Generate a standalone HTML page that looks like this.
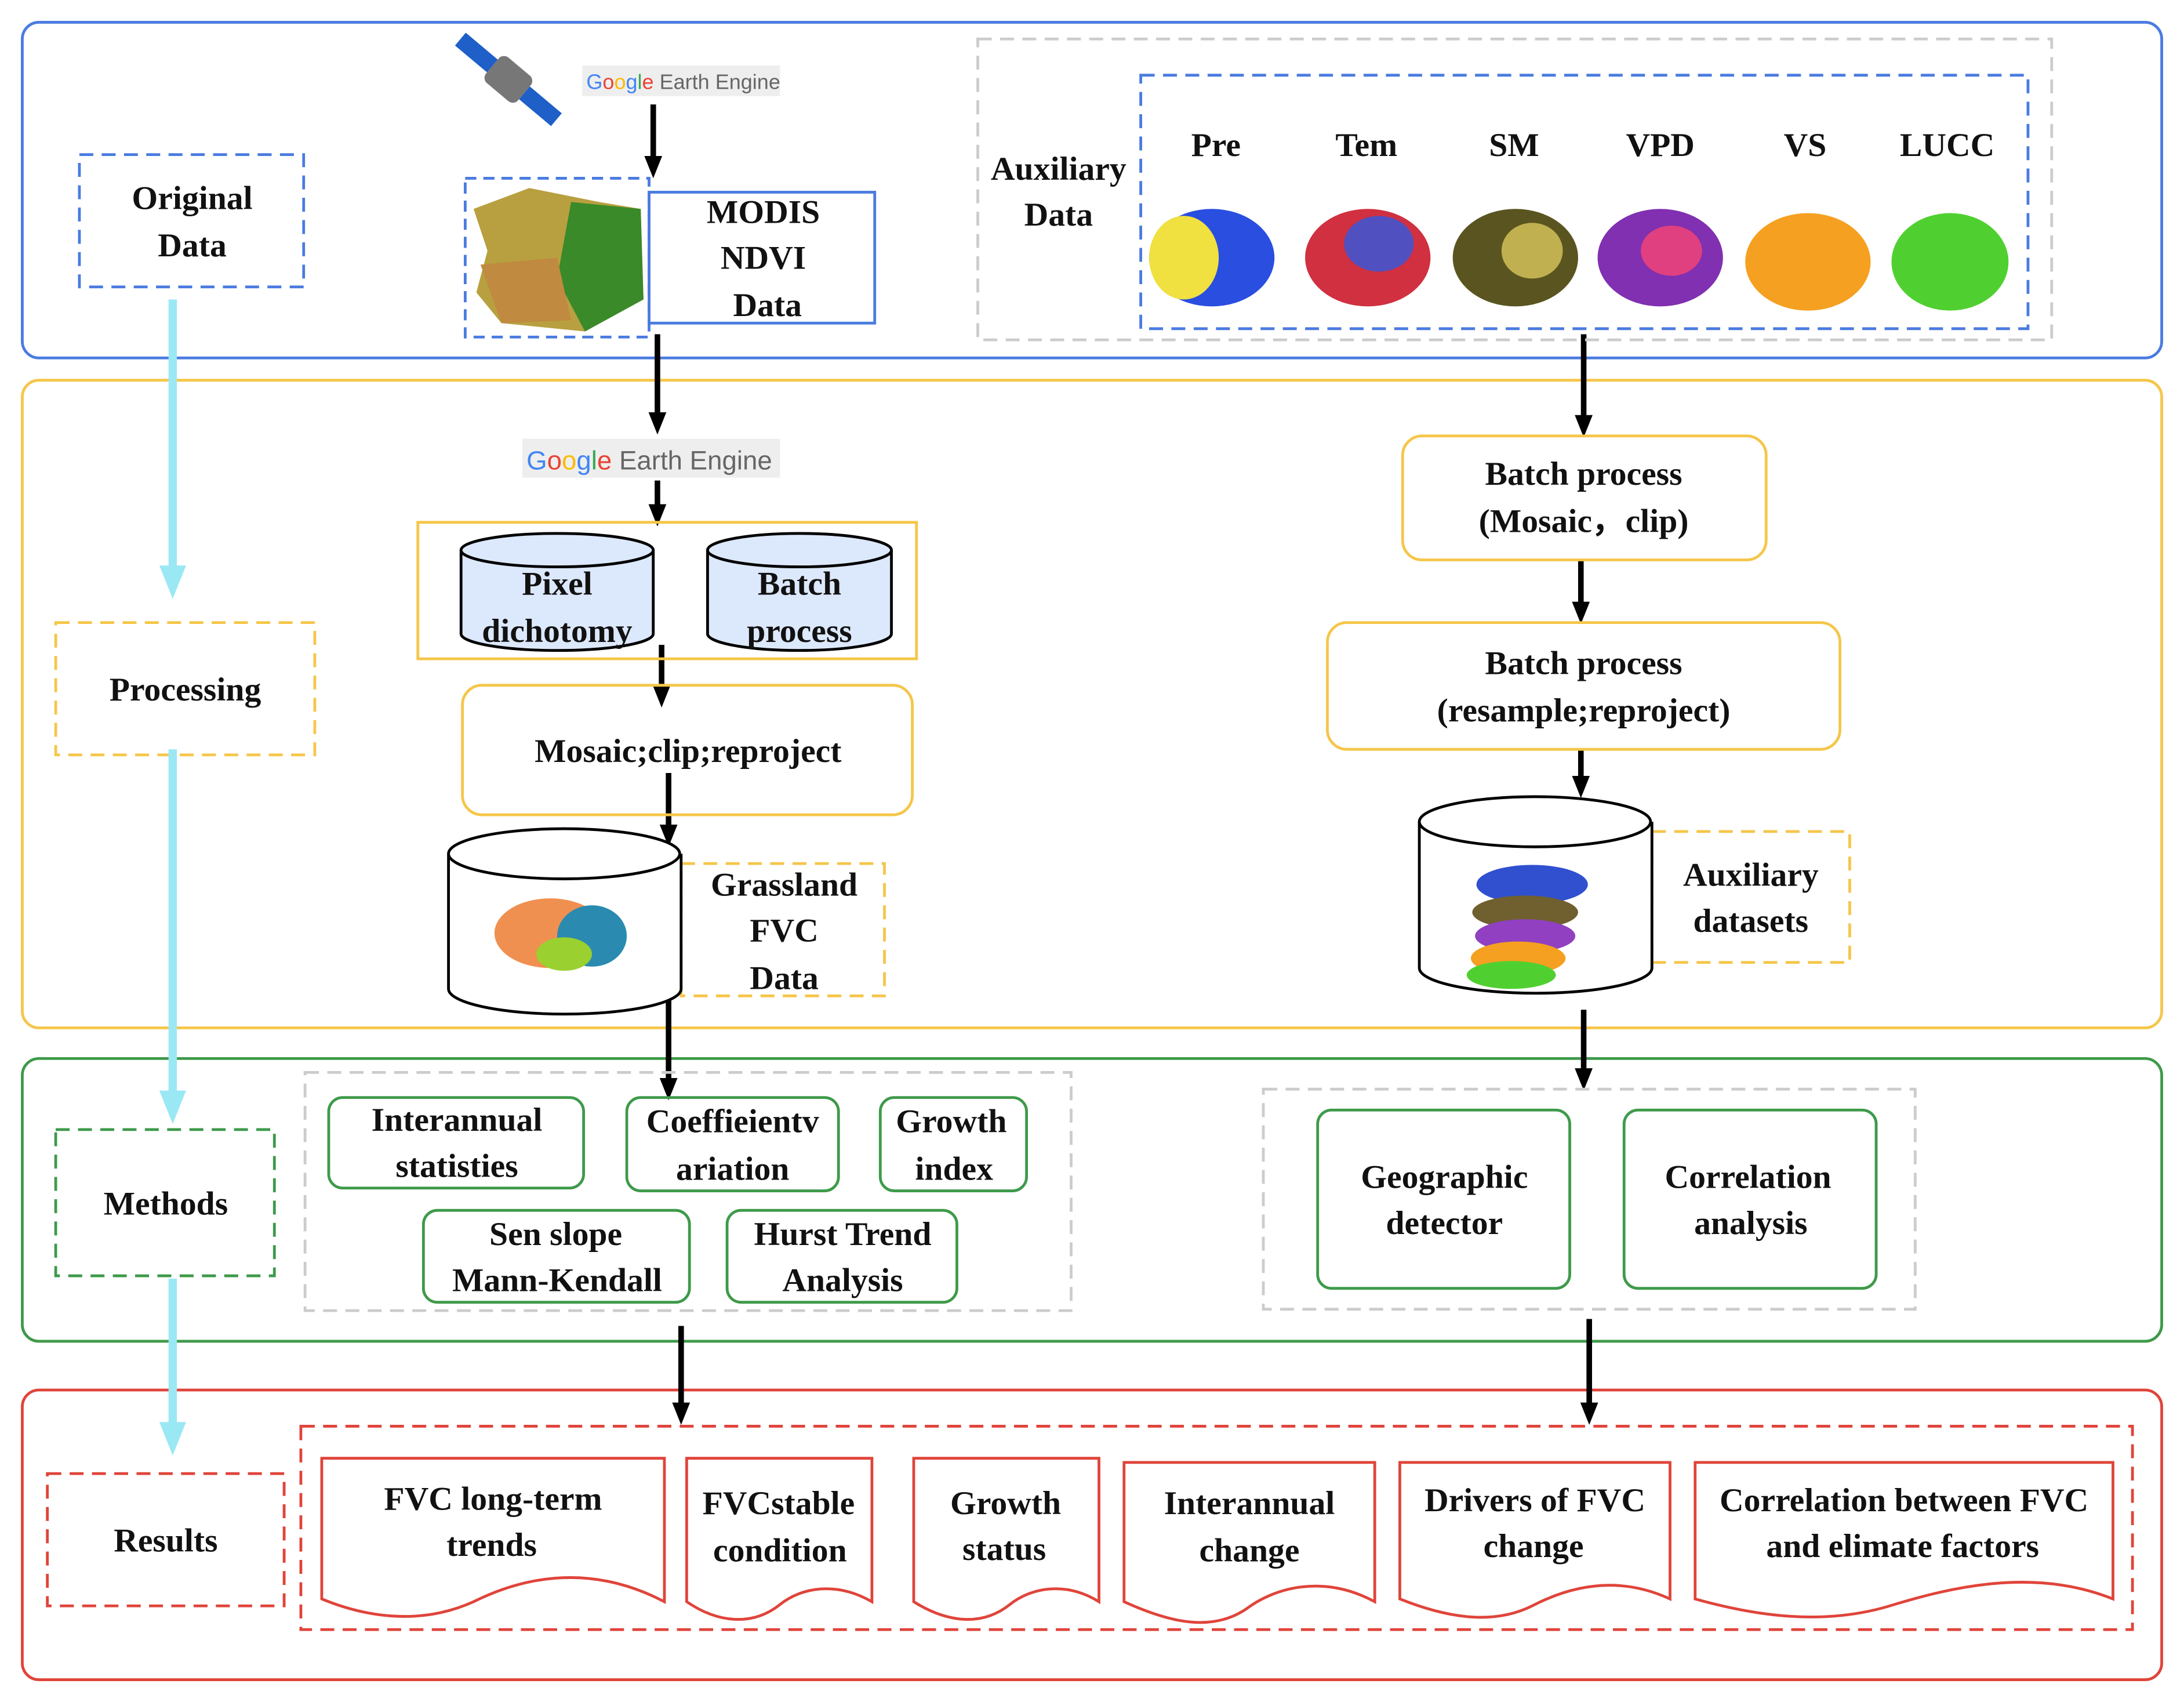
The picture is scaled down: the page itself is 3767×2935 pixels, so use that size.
<!DOCTYPE html>
<html><head><meta charset="utf-8"><style>
html,body{margin:0;padding:0;background:#fff;}
svg{display:block;}
text{font-family:"Liberation Serif",serif;font-weight:bold;font-size:24px;fill:#111;text-anchor:middle;}
.g{font-family:"Liberation Sans",sans-serif;font-weight:normal;font-size:15px;fill:#666;text-anchor:start;}
</style></head><body>
<svg width="3767" height="2935" viewBox="0 0 1568 1222" preserveAspectRatio="none" xmlns="http://www.w3.org/2000/svg">
<defs>
<marker id="ah" markerWidth="4" markerHeight="4" refX="2" refY="2" orient="auto" markerUnits="strokeWidth"><path d="M0,0.4 L4,2 L0,3.6 Z" fill="#000"/></marker>
<marker id="ahc" markerWidth="4" markerHeight="4" refX="2" refY="2" orient="auto" markerUnits="strokeWidth"><path d="M0,0.4 L4,2 L0,3.6 Z" fill="#9be8f5"/></marker>
</defs>
<!-- panels -->
<rect x="16" y="16" width="1536" height="241" rx="12" fill="none" stroke="#4a7be0" stroke-width="2"/>
<rect x="16" y="273" width="1536" height="465" rx="12" fill="none" stroke="#f5c64a" stroke-width="2"/>
<rect x="16" y="760" width="1536" height="203" rx="12" fill="none" stroke="#3e9a4a" stroke-width="2"/>
<rect x="16" y="998" width="1536" height="208" rx="12" fill="none" stroke="#e0443a" stroke-width="2"/>
<!-- left labels -->
<rect x="57" y="111" width="161" height="95" fill="none" stroke="#4a7be0" stroke-width="2" stroke-dasharray="10,6"/>
<text x="138" y="150">Original</text><text x="138" y="184">Data</text>
<rect x="40" y="447" width="186" height="95" fill="none" stroke="#f5c64a" stroke-width="2" stroke-dasharray="10,6"/>
<text x="133" y="503">Processing</text>
<rect x="40" y="811" width="157" height="105" fill="none" stroke="#3e9a4a" stroke-width="2" stroke-dasharray="10,6"/>
<text x="119" y="872">Methods</text>
<rect x="34" y="1058" width="170" height="95" fill="none" stroke="#e0443a" stroke-width="2" stroke-dasharray="10,6"/>
<text x="119" y="1114">Results</text>
<g stroke="#9be8f5" stroke-width="6" marker-end="url(#ahc)">
<line x1="124" y1="215" x2="124" y2="418"/><line x1="124" y1="538" x2="124" y2="795"/><line x1="124" y1="918" x2="124" y2="1033"/>
</g>
<!-- satellite -->
<g transform="translate(365,57) rotate(40)">
<rect x="-45" y="-6" width="30" height="12" fill="#1e5fc8"/><rect x="15" y="-6" width="30" height="12" fill="#1e5fc8"/>
<rect x="-15" y="-12" width="30" height="24" rx="5" fill="#777"/>
</g>
<rect x="418" y="47" width="142" height="22" fill="#eee"/>
<text class="g" x="421" y="64"><tspan fill="#4285f4">G</tspan><tspan fill="#ea4335">o</tspan><tspan fill="#fbbc05">o</tspan><tspan fill="#4285f4">g</tspan><tspan fill="#34a853">l</tspan><tspan fill="#ea4335">e</tspan> Earth Engine</text>
<!-- arrows black -->
<g stroke="#000" stroke-width="4" marker-end="url(#ah)">
<line x1="469" y1="75" x2="469" y2="120"/>
<line x1="472" y1="240" x2="472" y2="304"/>
<line x1="472" y1="345" x2="472" y2="370"/>
<line x1="475" y1="463" x2="475" y2="500"/>
<line x1="480" y1="555" x2="480" y2="600"/>
<line x1="480" y1="715" x2="480" y2="782"/>
<line x1="1137" y1="240" x2="1137" y2="306"/>
<line x1="1135" y1="402" x2="1135" y2="440"/>
<line x1="1135" y1="538" x2="1135" y2="565"/>
<line x1="1137" y1="725" x2="1137" y2="775"/>
<line x1="489" y1="952" x2="489" y2="1015"/>
<line x1="1141" y1="947" x2="1141" y2="1015"/>
</g>
<!-- MODIS -->
<rect x="334" y="128" width="132" height="114" fill="none" stroke="#4a7be0" stroke-width="2" stroke-dasharray="8,5"/>
<path d="M340,150 L380,135 L430,145 L460,150 L462,215 L420,238 L360,232 L342,210 L350,180 Z" fill="#b8a040"/>
<path d="M410,145 L460,150 L462,215 L420,238 L400,200 Z" fill="#3a8a2a"/>
<path d="M345,190 L400,185 L410,230 L360,232 Z" fill="#c08a40"/>
<rect x="466" y="138" width="162" height="94" fill="#fff" stroke="#4a7be0" stroke-width="2"/>
<text x="548" y="160">MODIS</text><text x="548" y="193">NDVI</text><text x="551" y="227">Data</text>
<!-- auxiliary -->
<rect x="702" y="28" width="771" height="216" fill="none" stroke="#ccc" stroke-width="2" stroke-dasharray="10,6"/>
<text x="760" y="129">Auxiliary</text><text x="760" y="162">Data</text>
<rect x="819" y="54" width="637" height="182" fill="none" stroke="#4a7be0" stroke-width="2" stroke-dasharray="10,6"/>
<text x="873" y="112">Pre</text><text x="981" y="112">Tem</text><text x="1087" y="112">SM</text><text x="1192" y="112">VPD</text><text x="1296" y="112">VS</text><text x="1398" y="112">LUCC</text>
<g>
<ellipse cx="870" cy="185" rx="45" ry="35" fill="#2a4ee0"/><ellipse cx="850" cy="185" rx="25" ry="30" fill="#f0e040"/>
<ellipse cx="982" cy="185" rx="45" ry="35" fill="#d03040"/><ellipse cx="990" cy="175" rx="25" ry="20" fill="#5050c0"/>
<ellipse cx="1088" cy="185" rx="45" ry="35" fill="#5a5520"/><ellipse cx="1100" cy="180" rx="22" ry="20" fill="#c0b050"/>
<ellipse cx="1192" cy="185" rx="45" ry="35" fill="#8030b0"/><ellipse cx="1200" cy="180" rx="22" ry="18" fill="#e04080"/>
<ellipse cx="1298" cy="188" rx="45" ry="35" fill="#f5a020"/>
<ellipse cx="1400" cy="188" rx="42" ry="35" fill="#50d030"/>
</g>
<!-- GEE 2 -->
<rect x="375" y="315" width="185" height="28" fill="#eee"/>
<text class="g" x="378" y="337" style="font-size:19px"><tspan fill="#4285f4">G</tspan><tspan fill="#ea4335">o</tspan><tspan fill="#fbbc05">o</tspan><tspan fill="#4285f4">g</tspan><tspan fill="#34a853">l</tspan><tspan fill="#ea4335">e</tspan> Earth Engine</text>
<rect x="300" y="375" width="358" height="98" fill="none" stroke="#f5c64a" stroke-width="2"/>
<g stroke="#000" stroke-width="2" fill="#dce8fb">
<path d="M331,395 V455 A69,12 0 0 0 469,455 V395"/><ellipse cx="400" cy="395" rx="69" ry="12"/>
<path d="M508,395 V455 A66,12 0 0 0 640,455 V395"/><ellipse cx="574" cy="395" rx="66" ry="12"/>
</g>
<text x="400" y="427">Pixel</text><text x="400" y="461">dichotomy</text>
<text x="574" y="427">Batch</text><text x="574" y="461">process</text>
<rect x="332" y="492" width="323" height="93" rx="14" fill="none" stroke="#f5c64a" stroke-width="2"/>
<text x="494" y="547">Mosaic;clip;reproject</text>
<!-- grassland cylinder -->
<rect x="489" y="620" width="146" height="95" fill="none" stroke="#f5c64a" stroke-width="2" stroke-dasharray="10,6"/>
<path d="M322,613 V710 A83,18 0 0 0 489,710 V613" fill="#fff" stroke="#000" stroke-width="2"/>
<ellipse cx="405" cy="613" rx="83" ry="18" fill="#fff" stroke="#000" stroke-width="2"/>
<ellipse cx="395" cy="670" rx="40" ry="25" fill="#f09050"/><ellipse cx="425" cy="672" rx="25" ry="22" fill="#2a8ab0"/><ellipse cx="405" cy="685" rx="20" ry="12" fill="#9ad030"/>
<text x="563" y="643">Grassland</text><text x="563" y="676">FVC</text><text x="563" y="710">Data</text>
<!-- right processing -->
<rect x="1007" y="313" width="261" height="89" rx="14" fill="none" stroke="#f5c64a" stroke-width="2"/>
<text x="1137" y="348">Batch process</text><text x="1137" y="382">(Mosaic，clip)</text>
<rect x="953" y="447" width="368" height="91" rx="14" fill="none" stroke="#f5c64a" stroke-width="2"/>
<text x="1137" y="484">Batch process</text><text x="1137" y="518">(resample;reproject)</text>
<rect x="1186" y="597" width="142" height="94" fill="none" stroke="#f5c64a" stroke-width="2" stroke-dasharray="10,6"/>
<path d="M1019,590 V695 A83,18 0 0 0 1186,695 V590" fill="#fff" stroke="#000" stroke-width="2"/>
<ellipse cx="1102" cy="590" rx="83" ry="18" fill="#fff" stroke="#000" stroke-width="2"/>
<ellipse cx="1100" cy="635" rx="40" ry="14" fill="#3050d0"/><ellipse cx="1095" cy="655" rx="38" ry="12" fill="#706030"/><ellipse cx="1095" cy="672" rx="36" ry="12" fill="#9040c0"/><ellipse cx="1090" cy="688" rx="34" ry="12" fill="#f5a020"/><ellipse cx="1085" cy="700" rx="32" ry="10" fill="#50d030"/>
<text x="1257" y="636">Auxiliary</text><text x="1257" y="669">datasets</text>
<!-- methods -->
<rect x="219" y="770" width="550" height="171" fill="none" stroke="#ccc" stroke-width="2" stroke-dasharray="10,6"/>
<g fill="none" stroke="#3e9a4a" stroke-width="2">
<rect x="236" y="788" width="183" height="65" rx="10"/><rect x="450" y="788" width="152" height="67" rx="10"/><rect x="632" y="788" width="105" height="67" rx="10"/>
<rect x="304" y="869" width="191" height="66" rx="10"/><rect x="522" y="869" width="165" height="66" rx="10"/>
</g>
<text x="328" y="812">Interannual</text><text x="328" y="845">statisties</text>
<text x="526" y="813">Coeffieientv</text><text x="526" y="847">ariation</text>
<text x="683" y="813">Growth</text><text x="685" y="847">index</text>
<text x="399" y="894">Sen slope</text><text x="400" y="927">Mann-Kendall</text>
<text x="605" y="894">Hurst Trend</text><text x="605" y="927">Analysis</text>
<rect x="907" y="782" width="468" height="158" fill="none" stroke="#ccc" stroke-width="2" stroke-dasharray="10,6"/>
<rect x="946" y="797" width="181" height="128" rx="10" fill="none" stroke="#3e9a4a" stroke-width="2"/>
<rect x="1166" y="797" width="181" height="128" rx="10" fill="none" stroke="#3e9a4a" stroke-width="2"/>
<text x="1037" y="853">Geographic</text><text x="1037" y="886">detector</text>
<text x="1255" y="853">Correlation</text><text x="1257" y="886">analysis</text>
<!-- results -->
<rect x="216" y="1024" width="1315" height="146" fill="none" stroke="#e0443a" stroke-width="2" stroke-dasharray="10,6"/>
<g fill="#fff" stroke="#e0443a" stroke-width="2">
<path d="M231,1047 H477 V1150 C420,1120 370,1135 340,1150 C300,1168 260,1160 231,1148 Z"/>
<path d="M493,1047 H626 V1150 C600,1135 575,1140 560,1152 C540,1168 515,1165 493,1150 Z"/>
<path d="M656,1047 H789 V1150 C765,1135 740,1140 725,1152 C705,1168 680,1165 656,1150 Z"/>
<path d="M807,1050 H987 V1150 C950,1130 915,1140 895,1155 C870,1172 840,1165 807,1150 Z"/>
<path d="M1005,1050 H1199 V1148 C1160,1130 1125,1140 1100,1153 C1070,1168 1035,1160 1005,1148 Z"/>
<path d="M1217,1050 H1517 V1148 C1460,1125 1400,1140 1360,1152 C1310,1168 1260,1160 1217,1148 Z"/>
</g>
<text x="354" y="1084">FVC long-term</text><text x="353" y="1117">trends</text>
<text x="559" y="1087">FVCstable</text><text x="560" y="1121">condition</text>
<text x="722" y="1087">Growth</text><text x="721" y="1120">status</text>
<text x="897" y="1087">Interannual</text><text x="897" y="1121">change</text>
<text x="1102" y="1085">Drivers of  FVC</text><text x="1101" y="1118">change</text>
<text x="1367" y="1085">Correlation between FVC</text><text x="1366" y="1118">and elimate factors</text>
</svg>
</body></html>
